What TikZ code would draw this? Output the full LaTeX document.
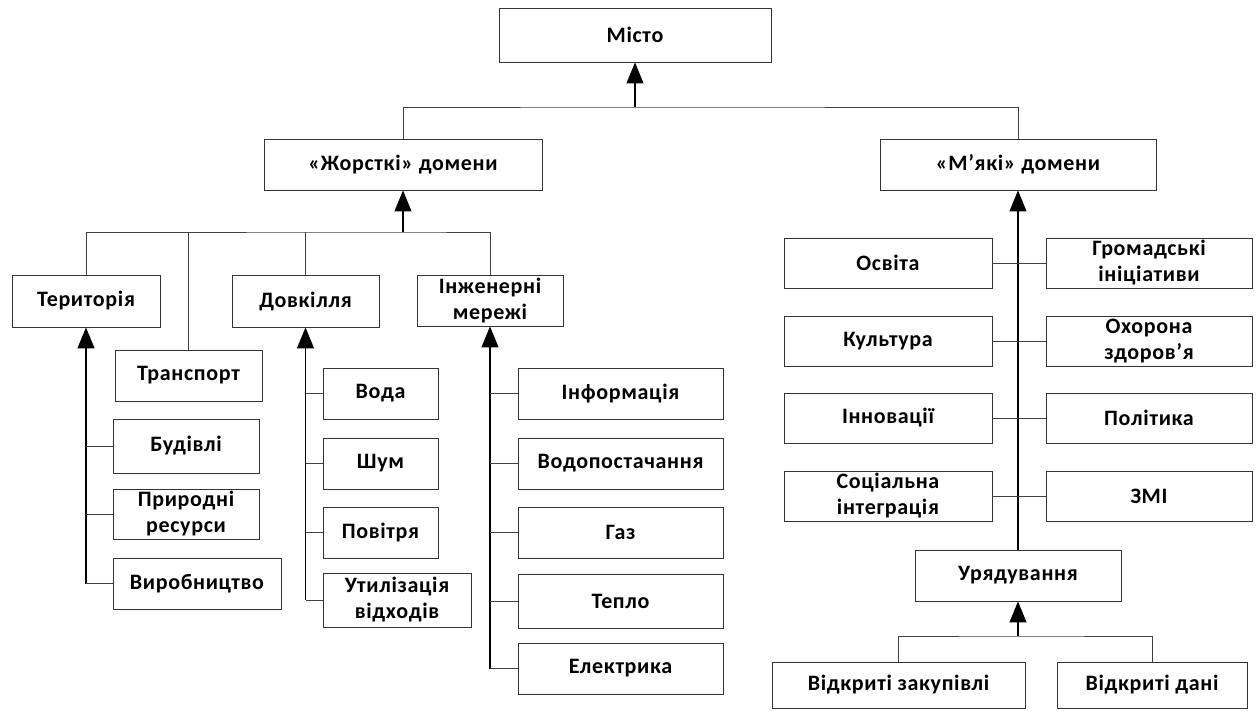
\documentclass[tikz,border=0pt]{standalone}
\usepackage{fontspec}
\setmainfont{Carlito}[LetterSpace=3]
\usetikzlibrary{arrows.meta}

\begin{document}
\begin{tikzpicture}[x=1pt,y=-1pt,
  box/.style={draw=black!80, line width=0.9pt, fill=white, inner sep=0pt,
    align=center, font=\bfseries\fontsize{22}{26}\selectfont},
  link/.style={draw=black!75, line width=0.9pt},
  trunk/.style={draw=black, line width=1.2pt},
  up/.style={trunk, -{Triangle[length=21pt,width=17pt]}}]

% page frame
\useasboundingbox (0,0) rectangle (1256,711);

% top level
\node[box, minimum width=272, minimum height=54] (misto) at (635,35) {Місто};
\node[box, minimum width=278, minimum height=51] (hard) at (403,164.5) {«Жорсткі» домени};
\node[box, minimum width=276, minimum height=51] (soft) at (1018,164.5) {«М’які» домени};

% hard domains
\node[box, minimum width=148, minimum height=52] (terr) at (86,301) {Територія};
\node[box, minimum width=147, minimum height=52] (env) at (305.5,301) {Довкілля};
\node[box, minimum width=146, minimum height=51] (eng) at (490,300.5) {Інженерні\\мережі};
\node[box, minimum width=147, minimum height=51] (transp) at (188.5,375.5) {Транспорт};

\node[box, minimum width=146, minimum height=54] (build) at (186,446) {Будівлі};
\node[box, minimum width=146, minimum height=50] (nat) at (186,514) {Природні\\ресурси};
\node[box, minimum width=168, minimum height=51] (prod) at (197,583.5) {Виробництво};

\node[box, minimum width=115, minimum height=51] (water) at (380.5,393.5) {Вода};
\node[box, minimum width=115, minimum height=51] (noise) at (380.5,463.5) {Шум};
\node[box, minimum width=115, minimum height=51] (air) at (380.5,532.5) {Повітря};
\node[box, minimum width=148, minimum height=54] (waste) at (397,600) {Утилізація\\відходів};

\node[box, minimum width=205, minimum height=51] (info) at (620.5,393.5) {Інформація};
\node[box, minimum width=205, minimum height=51] (supply) at (620.5,463.5) {Водопостачання};
\node[box, minimum width=205, minimum height=51] (gas) at (620.5,532.5) {Газ};
\node[box, minimum width=205, minimum height=54] (heat) at (620.5,601) {Тепло};
\node[box, minimum width=205, minimum height=51] (elec) at (620.5,668.5) {Електрика};

% soft domains
\node[box, minimum width=208, minimum height=50] (edu) at (888,263) {Освіта};
\node[box, minimum width=206, minimum height=50] (civic) at (1149,263) {Громадські\\ініціативи};
\node[box, minimum width=208, minimum height=50] (cult) at (888,341) {Культура};
\node[box, minimum width=206, minimum height=50] (health) at (1149,341) {Охорона\\здоров’я};
\node[box, minimum width=208, minimum height=50] (innov) at (888,418) {Інновації};
\node[box, minimum width=206, minimum height=50] (pol) at (1149,418) {Політика};
\node[box, minimum width=208, minimum height=50] (social) at (888,496) {Соціальна\\інтеграція};
\node[box, minimum width=206, minimum height=50] (media) at (1149,496) {ЗМІ};

\node[box, minimum width=206, minimum height=51] (gov) at (1018,575.5) {Урядування};
\node[box, minimum width=253, minimum height=46] (procure) at (898.5,685) {Відкриті закупівлі};
\node[box, minimum width=190, minimum height=46] (opendata) at (1152,685) {Відкриті дані};

% junction points of the bars
\coordinate (jtop) at (635,107);
\coordinate (jhard) at (403,232);
\coordinate (jgov) at (1018,636);

% city level
\draw[link] (hard.north) |- (jtop) -| (soft.north);
\draw[up] (jtop) -- (misto.south);

% hard domains bar
\draw[link] (terr.north) |- (jhard) -| (eng.north);
\draw[link] (transp.north) -- (transp.north |- jhard);
\draw[link] (env.north) -- (env.north |- jhard);
\draw[up] (jhard) -- (hard.south);

% territory branch
\draw[up] (prod.west -| terr.south) -- (terr.south);
\foreach \n in {build,nat,prod}
  \draw[link] (\n.west) -- (\n.west -| terr.south);

% environment branch
\draw[up] (waste.west -| env.south) -- (env.south);
\foreach \n in {water,noise,air,waste}
  \draw[link] (\n.west) -- (\n.west -| env.south);

% engineering networks branch
\draw[up] (elec.west -| eng.south) -- (eng.south);
\foreach \n in {info,supply,gas,heat,elec}
  \draw[link] (\n.west) -- (\n.west -| eng.south);

% soft domains trunk
\draw[up] (gov.north) -- (soft.south);
\draw[link] (edu.east) -- (civic.west);
\draw[link] (cult.east) -- (health.west);
\draw[link] (innov.east) -- (pol.west);
\draw[link] (social.east) -- (media.west);

% governance branch
\draw[link] (procure.north) |- (jgov) -| (opendata.north);
\draw[up] (jgov) -- (gov.south);
\end{tikzpicture}
\end{document}
